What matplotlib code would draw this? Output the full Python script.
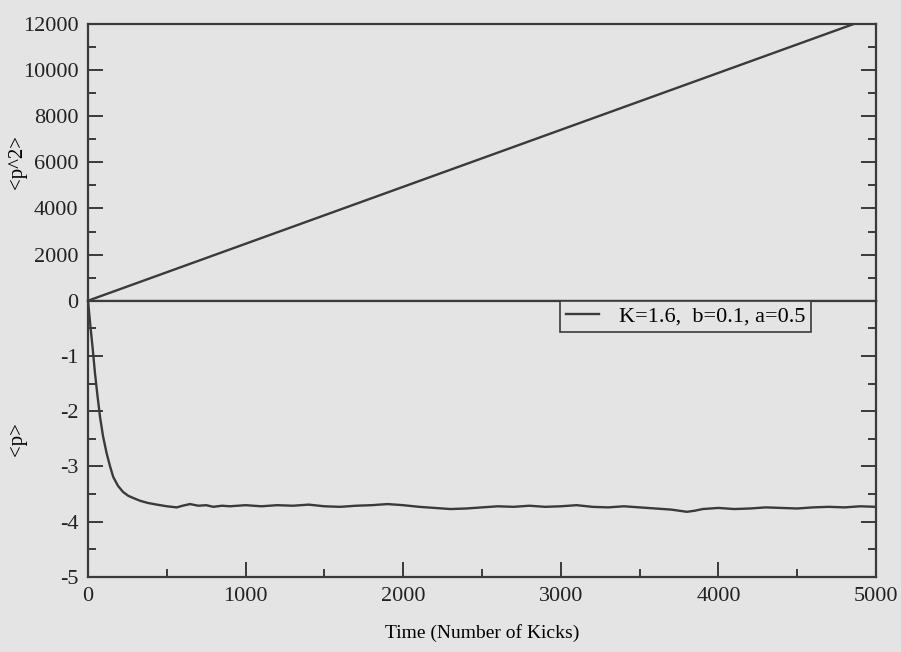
import matplotlib.pyplot as plt
from matplotlib.ticker import MultipleLocator

# <p^2> grows linearly with the number of kicks
t_p2 = [0, 1000, 2000, 3000, 4000, 5000]
p2 = [0, 2470, 4940, 7410, 9880, 12350]

# <p> drops quickly and then settles around -3.7
t_p = [0, 13, 30, 44, 60, 76, 95, 118, 140, 160, 190, 222, 255, 287, 330, 380,
       437, 500, 563, 600, 647, 700, 750, 795, 850, 900, 1000, 1100, 1200, 1300,
       1400, 1500, 1600, 1700, 1800, 1900, 2000, 2100, 2200, 2300, 2400, 2500,
       2600, 2700, 2800, 2900, 3000, 3100, 3200, 3300, 3400, 3500, 3600, 3700,
       3800, 3850, 3900, 4000, 4100, 4200, 4300, 4400, 4500, 4600, 4700, 4800,
       4900, 5000]
p = [0, -0.40, -0.88, -1.31, -1.72, -2.10, -2.45, -2.76, -3.00, -3.19, -3.35,
     -3.46, -3.53, -3.57, -3.62, -3.66, -3.69, -3.72, -3.74, -3.71, -3.68,
     -3.71, -3.70, -3.73, -3.71, -3.72, -3.70, -3.72, -3.70, -3.71, -3.69,
     -3.72, -3.73, -3.71, -3.70, -3.68, -3.70, -3.73, -3.75, -3.77, -3.76,
     -3.74, -3.72, -3.73, -3.71, -3.73, -3.72, -3.70, -3.73, -3.74, -3.72,
     -3.74, -3.76, -3.78, -3.82, -3.80, -3.77, -3.75, -3.77, -3.76, -3.74,
     -3.75, -3.76, -3.74, -3.73, -3.74, -3.72, -3.73]

legend_label = 'K=1.6,  b=0.1, a=0.5'

bg = '#e4e4e4'
ink = '#3a3a3a'
plt.rcParams['font.family'] = ['Liberation Serif', 'DejaVu Serif']
plt.rcParams['font.size'] = 16
plt.rcParams['axes.unicode_minus'] = False

fig = plt.figure(figsize=(9.01, 6.52), dpi=100, facecolor=bg)
ax1 = fig.add_axes([0.0977, 0.5388, 0.8746, 0.4244], facecolor=bg)
ax2 = fig.add_axes([0.0977, 0.115, 0.8746, 0.4238], facecolor=bg, sharex=ax1)

ax1.plot(t_p2, p2, color=ink, lw=1.7)
ax2.plot(t_p, p, color=ink, lw=1.7, label=legend_label)

ax1.set_xlim(0, 5000)
ax1.set_ylim(0, 12000)
ax2.set_ylim(-5, 0)

ax1.yaxis.set_major_locator(MultipleLocator(2000))
ax1.yaxis.set_minor_locator(MultipleLocator(1000))
ax2.yaxis.set_major_locator(MultipleLocator(1))
ax2.yaxis.set_minor_locator(MultipleLocator(0.5))
ax2.xaxis.set_major_locator(MultipleLocator(1000))
ax2.xaxis.set_minor_locator(MultipleLocator(500))

for ax in (ax1, ax2):
    for s in ax.spines.values():
        s.set_color(ink)
        s.set_linewidth(1.6)
    ax.tick_params(which='both', direction='in', colors=ink, labelcolor='#222222',
                   left=True, right=True, width=1.4)
    ax.tick_params(which='major', length=11, labelsize=16)
    ax.tick_params(which='minor', length=6)
    ax.tick_params(axis='y', which='major', pad=7)

ax1.tick_params(axis='x', which='both', bottom=False, top=False, labelbottom=False)
ax2.tick_params(axis='x', which='both', top=False)
ax2.tick_params(axis='x', which='major', pad=7)
ax2.set_yticks([-5, -4, -3, -2, -1])

ax1.set_ylabel('<p^2>', fontsize=15)
ax2.set_ylabel('<p>', fontsize=15)
ax1.yaxis.set_label_coords(-0.077, 0.5)
ax2.yaxis.set_label_coords(-0.077, 0.5)
ax2.set_xlabel('Time (Number of Kicks)', fontsize=14, labelpad=13)

leg = ax2.legend(loc='upper right', bbox_to_anchor=(0.9175, 1.0), frameon=True,
                 fancybox=False, fontsize=16, handlelength=1.5, borderpad=0.25,
                 handletextpad=0.9, borderaxespad=0)
leg.get_frame().set_edgecolor(ink)
leg.get_frame().set_facecolor(bg)
leg.get_frame().set_linewidth(1.2)
leg.get_frame().set_alpha(1)

fig.savefig('out.png', dpi=100, facecolor=bg)
